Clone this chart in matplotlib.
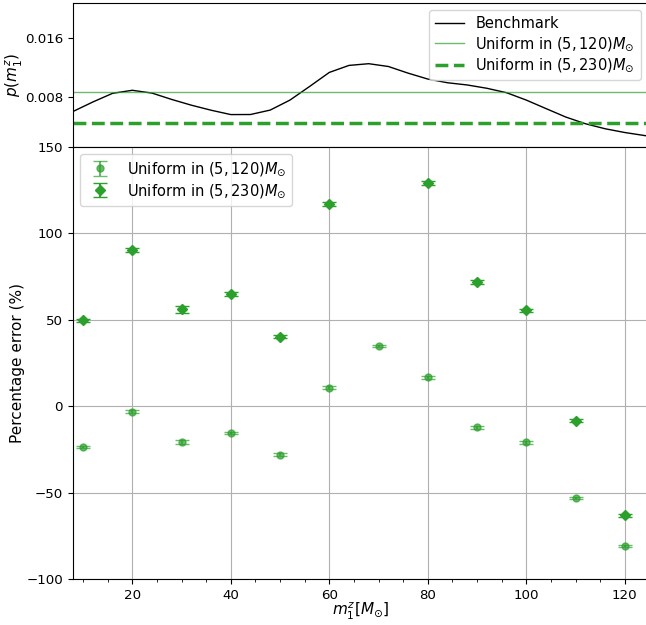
import numpy as np
import matplotlib
matplotlib.use("Agg")
import matplotlib.pyplot as plt
from matplotlib.ticker import MultipleLocator

# ---- data ----
bench_x = [7, 12, 16, 20, 24, 28, 32, 36, 40, 44, 48, 52, 56, 60, 64, 68, 72,
           76, 80, 84, 88, 92, 96, 100, 104, 108, 112, 116, 120, 125]
bench_p = [0.0057, 0.0073, 0.00847, 0.00888, 0.0085, 0.00764, 0.00686, 0.00618,
           0.00559, 0.0056, 0.0062, 0.00755, 0.0094, 0.0113, 0.01225, 0.01248,
           0.0121, 0.0112, 0.0104, 0.0099, 0.0096, 0.00915, 0.00855, 0.00755,
           0.0064, 0.00526, 0.00435, 0.00367, 0.00316, 0.00265]
uni120_p = 1.0 / 115
uni230_p = 1.0 / 225

x120 = [10, 20, 30, 40, 50, 60, 70, 80, 90, 100, 110, 120]
err120 = [-23.6, -3.1, -20.7, -15.5, -28.0, 10.8, 34.9, 16.8, -12.2, -21.0, -53.1, -80.9]
sd120 = [0.8, 0.8, 1.3, 0.8, 0.8, 0.8, 0.8, 0.8, 0.8, 0.8, 0.8, 0.8]

x230 = [10, 20, 30, 40, 50, 60, 80, 90, 100, 110, 120]
err230 = [49.6, 90.4, 56.0, 64.7, 40.1, 117.0, 129.2, 71.9, 55.4, -8.3, -63.2]
sd230 = [0.8, 1.0, 2.0, 1.2, 0.9, 0.9, 1.0, 1.0, 1.0, 1.0, 1.0]

lab120 = r"Uniform in $(5, 120)M_{\odot}$"
lab230 = r"Uniform in $(5, 230)M_{\odot}$"
green = "#2ca02c"

fig = plt.figure(figsize=(6.46, 6.25), dpi=100)
W, H = 646.0, 625.0
x0, x1 = 72.7, 648.0
left = x0 / W
width = (x1 - x0) / W
ax1 = fig.add_axes([left, 1 - 147 / H, width, 144 / H])
ax2 = fig.add_axes([left, 1 - 579 / H, width, 432 / H], sharex=ax1)

# top panel
ax1.plot(bench_x, bench_p, color="black", lw=1.0, label="Benchmark")
ax1.axhline(uni120_p, color=green, lw=1.0, alpha=0.7, label=lab120)
ax1.axhline(uni230_p, color=green, lw=2.5, ls="--", label=lab230)
ax1.set_ylim(0.0012, 0.0207)
ax1.set_yticks([0.008, 0.016])
ax1.set_ylabel(r"$p(m_1^z)$", fontsize=11)
ax1.yaxis.set_label_coords(-0.083, 0.5)
ax1.tick_params(axis="x", which="both", bottom=False, labelbottom=False)
ax1.tick_params(axis="y", labelsize=9.6)
ax1.legend(loc="upper right", fontsize=10.5, labelspacing=0.25)

# bottom panel
ax2.errorbar(x120, err120, yerr=sd120, fmt="o", color=green, alpha=0.7,
             ms=5, capsize=5, label=lab120, zorder=3)
ax2.errorbar(x230, err230, yerr=sd230, fmt="D", color=green,
             ms=5, capsize=5, label=lab230, zorder=4)
ax2.set_xlim(7.9, 124.7)
ax2.set_ylim(-100, 150)
ax2.set_yticks([-100, -50, 0, 50, 100, 150])
ax2.set_xticks([20, 40, 60, 80, 100, 120])
ax2.xaxis.set_minor_locator(MultipleLocator(5))
ax2.grid(True, which="major", color="#b0b0b0", lw=0.8)
ax2.set_axisbelow(True)
ax2.tick_params(labelsize=9.6)
ax2.set_xlabel(r"$m_1^z[M_{\odot}]$", fontsize=11)
ax2.xaxis.set_label_coords(0.5, -0.05)
ax2.set_ylabel("Percentage error (%)", fontsize=11)
ax2.yaxis.set_label_coords(-0.083, 0.5)
ax2.legend(loc="upper left", fontsize=10.5, labelspacing=0.25)

fig.savefig("out.png", dpi=100)
